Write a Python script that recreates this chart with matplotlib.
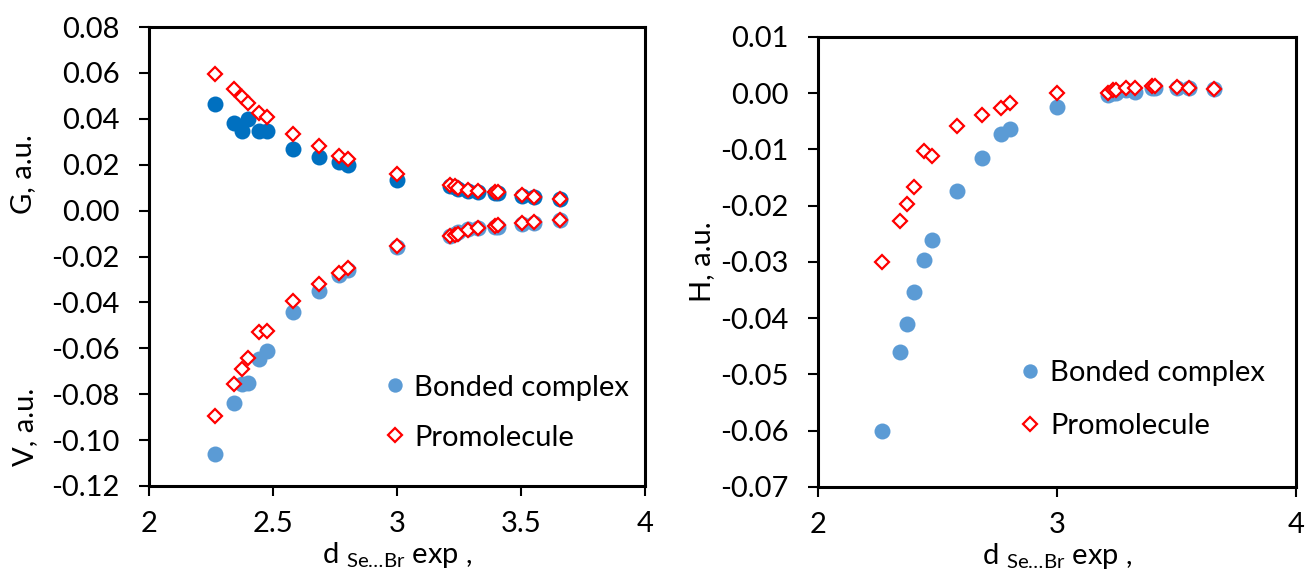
import matplotlib
matplotlib.use("Agg")
import matplotlib.pyplot as plt
from matplotlib.ticker import FormatStrFormatter

plt.rcParams['font.family'] = ['Lato', 'DejaVu Sans']
plt.rcParams['axes.unicode_minus'] = False
plt.rcParams['mathtext.default'] = 'regular'

# distances d(Se...Br) exp
d_exp = [2.267, 2.343, 2.374, 2.400, 2.444, 2.477, 2.581, 2.687, 2.766, 2.802, 2.999,
         3.215, 3.234, 3.247, 3.287, 3.327, 3.397, 3.408, 3.504, 3.552, 3.658]

# bonded complex
G_bond = [0.0463, 0.0380, 0.0347, 0.0399, 0.0348, 0.0348, 0.0270, 0.0232, 0.0212, 0.0197, 0.0135,
          0.0108, 0.0102, 0.0093, 0.0087, 0.0082, 0.0078, 0.0078, 0.0064, 0.0058, 0.0049]
V_bond = [-0.1062, -0.0837, -0.0757, -0.0750, -0.0647, -0.0610, -0.0441, -0.0349, -0.0281, -0.0259, -0.0157,
          -0.0111, -0.0100, -0.0092, -0.0080, -0.0077, -0.0070, -0.0070, -0.0058, -0.0053, -0.0041]
H_bond = [-0.0600, -0.0460, -0.0411, -0.0354, -0.0297, -0.0261, -0.0173, -0.0115, -0.0072, -0.0064, -0.0025,
          -0.0004, 0.0000, 0.0000, 0.0005, 0.0003, 0.0009, 0.0009, 0.0009, 0.0009, 0.0007]

# promolecule
G_pro = [0.0594, 0.0529, 0.0496, 0.0470, 0.0427, 0.0407, 0.0332, 0.0280, 0.0239, 0.0226, 0.0158,
         0.0112, 0.0107, 0.0097, 0.0090, 0.0087, 0.0080, 0.0080, 0.0068, 0.0061, 0.0049]
V_pro = [-0.0894, -0.0756, -0.0692, -0.0642, -0.0530, -0.0523, -0.0394, -0.0320, -0.0273, -0.0250, -0.0155,
         -0.0111, -0.0106, -0.0102, -0.0085, -0.0077, -0.0067, -0.0064, -0.0055, -0.0048, -0.0041]
H_pro = [-0.0300, -0.0227, -0.0197, -0.0167, -0.0103, -0.0112, -0.0059, -0.0039, -0.0026, -0.0018, 0.0000,
         0.0000, 0.0005, 0.0006, 0.0009, 0.0009, 0.0012, 0.0012, 0.0011, 0.0009, 0.0007]

dark_blue = '#0070C0'
light_blue = '#5B9BD5'
red = '#FF0000'
fs = 21

fig = plt.figure(figsize=(13.05, 5.75), dpi=100)
ax1 = fig.add_axes([149/1305, 1-486/575, 496/1305, 459/575])
ax2 = fig.add_axes([818/1305, 1-487/575, 478/1305, 450/575])

circ = dict(marker='o', linestyle='none', markersize=11.5, markeredgewidth=0)
diam = dict(marker='D', linestyle='none', markersize=7.5, markerfacecolor='white',
            markeredgecolor=red, markeredgewidth=1.6)
leg_kw = dict(loc='upper left', frameon=False, fontsize=fs, handlelength=0.8,
              handletextpad=0.28, borderaxespad=0, markerscale=0.9)

# ---- left: G and V
ax1.plot(d_exp, G_bond, color=dark_blue, **circ)
ax1.plot(d_exp, V_bond, color=light_blue, label='Bonded complex', **circ)
ax1.plot(d_exp, G_pro, **diam)
ax1.plot(d_exp, V_pro, label='Promolecule', **diam)
ax1.set_xlim(2, 4)
ax1.set_ylim(-0.12, 0.08)
ax1.set_xticks([2, 2.5, 3, 3.5, 4])
ax1.set_xticklabels(['2', '2.5', '3', '3.5', '4'])
ax1.set_yticks([-0.12 + 0.02*i for i in range(11)])
ax1.yaxis.set_major_formatter(FormatStrFormatter('%.2f'))
ax1.legend(bbox_to_anchor=(0.448, 0.268), labelspacing=0.82, **leg_kw)
fig.text(23/1305, 1-174/575, 'G, a.u.', rotation=90, ha='center', va='center', fontsize=fs)
fig.text(25/1305, 1-427/575, 'V, a.u.', rotation=90, ha='center', va='center', fontsize=fs)

# ---- right: H
ax2.plot(d_exp, H_bond, color=light_blue, label='Bonded complex', **circ)
ax2.plot(d_exp, H_pro, label='Promolecule', **diam)
ax2.set_xlim(2, 4)
ax2.set_ylim(-0.07, 0.01)
ax2.set_xticks([2, 3, 4])
ax2.set_yticks([-0.07 + 0.01*i for i in range(9)])
ax2.yaxis.set_major_formatter(FormatStrFormatter('%.2f'))
ax2.legend(bbox_to_anchor=(0.395, 0.308), labelspacing=0.92, **leg_kw)
fig.text(702/1305, 1-262/575, 'H, a.u.', rotation=90, ha='center', va='center', fontsize=fs)

for ax in (ax1, ax2):
    for sp in ax.spines.values():
        sp.set_linewidth(2.2)
    ax.tick_params(direction='out', length=7.2, width=1.5, labelsize=fs)
    ax.tick_params(axis='y', pad=14)
    ax.tick_params(axis='x', pad=11)
    ax.set_xlabel('d $_{Se…Br}$ exp ,', fontsize=fs, labelpad=2)

fig.savefig('out.png', dpi=100)
